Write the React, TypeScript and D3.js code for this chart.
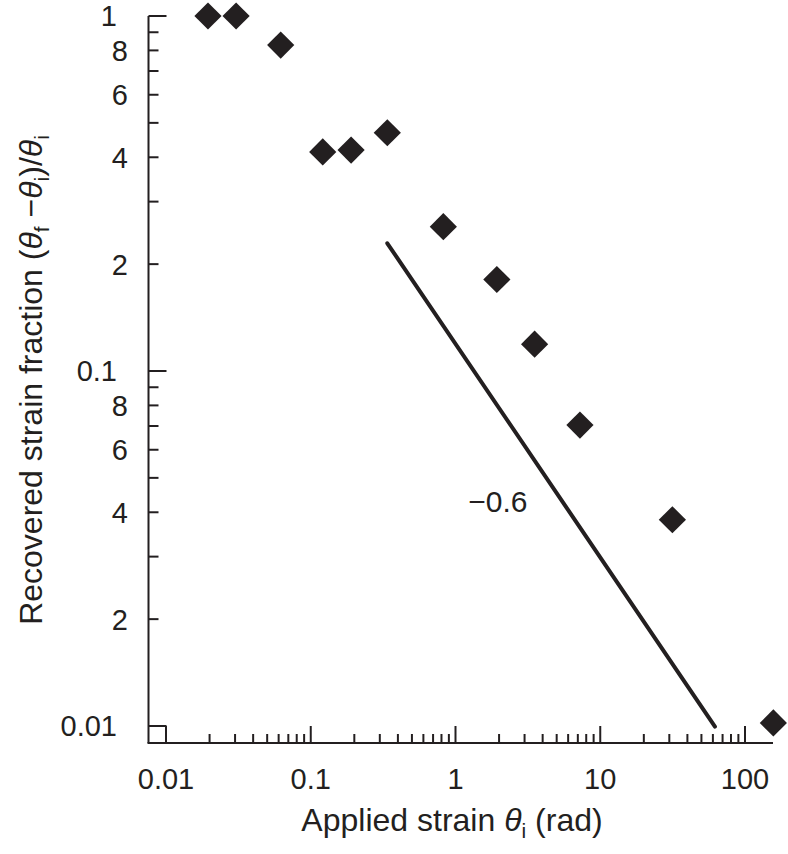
import React from "react";
import * as d3 from "d3";

const appliedStrain = [0.0195, 0.0305, 0.062, 0.121, 0.19, 0.338, 0.824, 1.93, 3.52, 7.24, 31.5, 157];
const recoveredFraction = [1.0, 1.0, 0.828, 0.414, 0.419, 0.469, 0.255, 0.181, 0.119, 0.0704, 0.0381, 0.0102];

const slopeLineX = [0.338, 62];
const slopeLineY = [0.229, 0.00996];
const slopeLabel = "\u22120.6";
const slopeLabelX = 1.96;
const slopeLabelY = 0.0401;

const xMajorTicks = [0.01, 0.1, 1, 10, 100];
const xMajorLabels = ["0.01", "0.1", "1", "10", "100"];
const yMajorTicks = [1, 0.1, 0.01];
const yMajorLabels = ["1", "0.1", "0.01"];
const yMinorLabeled = [0.8, 0.6, 0.4, 0.2, 0.08, 0.06, 0.04, 0.02];
const yMinorLabels = ["8", "6", "4", "2", "8", "6", "4", "2"];
const minorMultipliers = [2, 3, 4, 5, 6, 7, 8, 9];

const W = 788;
const H = 854;
const INK = "#231f20";
const FONT = "'Liberation Sans', Arial, Helvetica, sans-serif";

export default function App() {
  const x = d3.scaleLog().domain([0.01, 100]).range([166, 745]);
  const y = d3.scaleLog().domain([0.01, 1]).range([726, 16]);
  const axisLeft = 148.5;
  const axisBottom = 743;
  const axisRight = 773;

  const xMinor: number[] = [];
  xMajorTicks.slice(0, -1).forEach((d) => minorMultipliers.forEach((m) => xMinor.push(d * m)));
  const yMinor: number[] = [];
  yMajorTicks.slice(1).forEach((d) => minorMultipliers.forEach((m) => yMinor.push(d * m)));

  const diamond = d3.symbol().type(d3.symbolSquare).size(370)();
  const line = d3
    .line<number>()
    .x((_, i) => x(slopeLineX[i]))
    .y((d) => y(d));

  return (
    <div style={{ position: "absolute", left: 0, top: 0 }}>
      <svg width={W} height={H} style={{ display: "block", background: "#fff" }} fontFamily={FONT}>
        {/* axes */}
        <line x1={axisLeft} x2={axisLeft} y1={y(1)} y2={axisBottom} stroke={INK} strokeWidth={2} />
        <line x1={axisLeft - 1} x2={axisRight} y1={axisBottom} y2={axisBottom} stroke={INK} strokeWidth={2} />
        {/* y ticks */}
        {yMajorTicks.map((t) => (
          <line key={"ym" + t} x1={axisLeft} x2={axisLeft + 18} y1={y(t)} y2={y(t)} stroke={INK} strokeWidth={2} />
        ))}
        {yMinor.map((t) => (
          <line key={"yn" + t} x1={axisLeft} x2={axisLeft + 10} y1={y(t)} y2={y(t)} stroke={INK} strokeWidth={2} />
        ))}
        {/* x ticks */}
        {xMajorTicks.map((t) => (
          <line key={"xm" + t} x1={x(t)} x2={x(t)} y1={axisBottom} y2={axisBottom - 17} stroke={INK} strokeWidth={2} />
        ))}
        {xMinor.map((t) => (
          <line key={"xn" + t} x1={x(t)} x2={x(t)} y1={axisBottom} y2={axisBottom - 9} stroke={INK} strokeWidth={2} />
        ))}
        {/* y tick labels */}
        {yMajorTicks.map((t, i) => (
          <text key={"yl" + t} x={117} y={y(t)} dy="0.36em" textAnchor="end" fontSize={29} fill={INK}>
            {yMajorLabels[i]}
          </text>
        ))}
        {yMinorLabeled.map((t, i) => (
          <text key={"yl2" + t} x={128} y={y(t)} dy="0.36em" textAnchor="end" fontSize={29} fill={INK}>
            {yMinorLabels[i]}
          </text>
        ))}
        {/* x tick labels */}
        {xMajorTicks.map((t, i) => (
          <text key={"xl" + t} x={x(t)} y={789} textAnchor="middle" fontSize={29} fill={INK}>
            {xMajorLabels[i]}
          </text>
        ))}
        {/* x title */}
        <text x={452} y={831} textAnchor="middle" fontSize={32} fill={INK}>
          Applied strain <tspan fontStyle="italic">θ</tspan>
          <tspan fontSize={21} dy={7}>i</tspan>
          <tspan dy={-7}> (rad)</tspan>
        </text>
        {/* y title */}
        <text transform="translate(42,380) rotate(-90)" textAnchor="middle" fontSize={32} fill={INK}>
          Recovered strain fraction (<tspan fontStyle="italic">θ</tspan>
          <tspan fontSize={21} dy={7}>f</tspan>
          <tspan dy={-7}> −</tspan>
          <tspan fontStyle="italic">θ</tspan>
          <tspan fontSize={21} dy={7}>i</tspan>
          <tspan dy={-7}>)/</tspan>
          <tspan fontStyle="italic">θ</tspan>
          <tspan fontSize={21} dy={7}>i</tspan>
        </text>
        {/* slope line */}
        <path d={line(slopeLineY) || ""} fill="none" stroke={INK} strokeWidth={4} strokeLinecap="round" />
        <text x={x(slopeLabelX)} y={y(slopeLabelY)} textAnchor="middle" fontSize={30} fill={INK}>
          {slopeLabel}
        </text>
        {/* data */}
        {appliedStrain.map((v, i) => (
          <path
            key={"p" + i}
            d={diamond}
            transform={`translate(${x(v)},${y(recoveredFraction[i])}) rotate(45)`}
            fill={INK}
          />
        ))}
      </svg>
    </div>
  );
}
